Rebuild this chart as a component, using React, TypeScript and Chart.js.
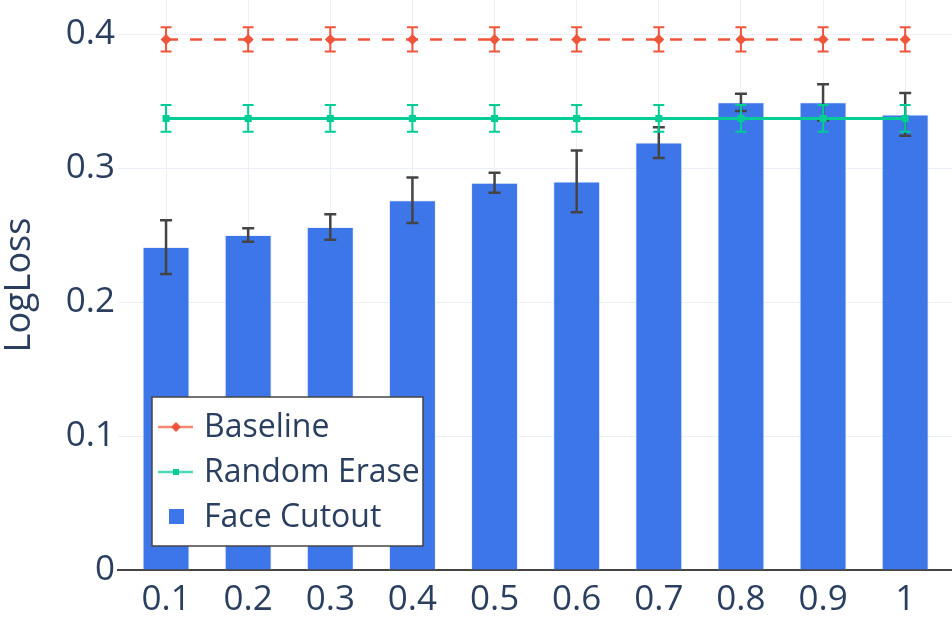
import React, { useEffect, useRef } from "react";
import { Chart, registerables } from "chart.js";

Chart.register(...registerables);

// ---- data ----
const xValues = [0.1, 0.2, 0.3, 0.4, 0.5, 0.6, 0.7, 0.8, 0.9, 1.0];
const baselineValues = [0.396, 0.396, 0.396, 0.396, 0.396, 0.396, 0.396, 0.396, 0.396, 0.396];
const baselineErrors = [0.009, 0.009, 0.009, 0.009, 0.009, 0.009, 0.009, 0.009, 0.009, 0.009];
const randomEraseValues = [0.337, 0.337, 0.337, 0.337, 0.337, 0.337, 0.337, 0.337, 0.337, 0.337];
const randomEraseErrors = [0.01, 0.01, 0.01, 0.01, 0.01, 0.01, 0.01, 0.01, 0.01, 0.01];
const faceCutoutValues = [0.241, 0.25, 0.256, 0.276, 0.289, 0.29, 0.319, 0.349, 0.349, 0.34];
const faceCutoutErrors = [0.02, 0.005, 0.0095, 0.017, 0.0075, 0.023, 0.0115, 0.0065, 0.0135, 0.016];
const yTickValues = [0, 0.1, 0.2, 0.3, 0.4];
const seriesLabels = ["Baseline", "Random Erase", "Face Cutout"];
const yTitle = "LogLoss";

const FONT = "'Open Sans', 'Noto Sans', sans-serif";
const TEXT = "#2a3f5f";
const RED = "#ef553b";
const GREEN = "#00cc96";
const BLUE = "#3d76e9";
const GRID = "#ebf0f8";

function drawErrorBars(chart: any, index: number) {
  const ds = chart.data.datasets[index];
  const errs: number[] | undefined = ds.errors;
  if (!errs) return;
  const meta = chart.getDatasetMeta(index);
  const yScale = chart.scales.y;
  const ctx = chart.ctx;
  ctx.save();
  ctx.strokeStyle = ds.errorColor;
  ctx.lineWidth = ds.errorWidth;
  ctx.setLineDash([]);
  const half = ds.errorCap / 2;
  meta.data.forEach((el: any, i: number) => {
    const v = ds.data[i].y;
    const x = el.x;
    const top = yScale.getPixelForValue(v + errs[i]);
    const bot = yScale.getPixelForValue(v - errs[i]);
    ctx.beginPath();
    ctx.moveTo(x, top);
    ctx.lineTo(x, bot);
    ctx.moveTo(x - half, top);
    ctx.lineTo(x + half, top);
    ctx.moveTo(x - half, bot);
    ctx.lineTo(x + half, bot);
    ctx.stroke();
  });
  ctx.restore();
}

const errorBarPlugin = {
  id: "errorBars",
  beforeDatasetDraw(chart: any, args: any) {
    const ds = chart.data.datasets[args.index];
    if (ds.type === "line") drawErrorBars(chart, args.index);
  },
  afterDatasetDraw(chart: any, args: any) {
    const ds = chart.data.datasets[args.index];
    if (ds.type !== "line") drawErrorBars(chart, args.index);
  },
};

const legendPlugin = {
  id: "boxLegend",
  afterDraw(chart: any) {
    const ctx = chart.ctx;
    const area = chart.chartArea;
    const left = area.left + 34;
    const top = area.top + 397;
    const w = 271;
    const h = 149;
    ctx.save();
    ctx.fillStyle = "#ffffff";
    ctx.fillRect(left, top, w, h);
    ctx.strokeStyle = "#444444";
    ctx.lineWidth = 1.5;
    ctx.strokeRect(left, top, w, h);
    const rowGap = 45;
    const symX = left + 24;
    chart.data.datasets.forEach((ds: any, i: number) => {
      const cy = top + 30 + i * rowGap;
      if (ds.type === "line") {
        ctx.save();
        ctx.globalAlpha = 0.7;
        ctx.strokeStyle = ds.borderColor;
        ctx.lineWidth = 2.5;
        ctx.beginPath();
        ctx.moveTo(symX - 18, cy);
        ctx.lineTo(symX + 17, cy);
        ctx.stroke();
        ctx.restore();
        ctx.fillStyle = ds.borderColor;
        if (ds.pointStyle === "rectRot") {
          const r = 5;
          ctx.beginPath();
          ctx.moveTo(symX, cy - r);
          ctx.lineTo(symX + r, cy);
          ctx.lineTo(symX, cy + r);
          ctx.lineTo(symX - r, cy);
          ctx.closePath();
          ctx.fill();
        } else {
          ctx.fillRect(symX - 3, cy - 3, 6, 6);
        }
      } else {
        ctx.fillStyle = ds.backgroundColor;
        ctx.fillRect(symX - 7, cy - 8, 15, 15);
      }
      ctx.fillStyle = TEXT;
      ctx.font = `32px ${FONT}`;
      ctx.textBaseline = "middle";
      ctx.textAlign = "left";
      ctx.fillText(ds.label, left + 52, cy + 1);
    });
    ctx.restore();
  },
};

const fmt = (v: number) => String(Math.round(v * 10) / 10);

export default function App() {
  const ref = useRef<HTMLCanvasElement | null>(null);

  useEffect(() => {
    if (!ref.current) return;
    const toPoints = (vals: number[]) => xValues.map((x, i) => ({ x, y: vals[i] }));
    const chart = new Chart(ref.current, {
      type: "bar",
      data: {
        datasets: [
          {
            type: "line",
            label: seriesLabels[0],
            data: toPoints(baselineValues),
            borderColor: RED,
            backgroundColor: RED,
            borderWidth: 2.5,
            borderDash: [12, 12],
            pointStyle: "rectRot",
            pointRadius: 5.5,
            pointBorderWidth: 0,
            order: 1,
            errors: baselineErrors,
            errorColor: RED,
            errorWidth: 2,
            errorCap: 11,
          } as any,
          {
            type: "line",
            label: seriesLabels[1],
            data: toPoints(randomEraseValues),
            borderColor: GREEN,
            backgroundColor: GREEN,
            borderWidth: 3,
            pointStyle: "rect",
            pointRadius: 5,
            pointBorderWidth: 0,
            order: 2,
            errors: randomEraseErrors,
            errorColor: GREEN,
            errorWidth: 2,
            errorCap: 11,
          } as any,
          {
            type: "bar",
            label: seriesLabels[2],
            data: toPoints(faceCutoutValues),
            backgroundColor: BLUE,
            borderColor: "rgba(229,236,246,0.8)",
            borderWidth: 1,
            barPercentage: 1,
            categoryPercentage: 0.572,
            order: 3,
            errors: faceCutoutErrors,
            errorColor: "#444444",
            errorWidth: 2.5,
            errorCap: 12,
          } as any,
        ],
      },
      options: {
        animation: false,
        responsive: true,
        maintainAspectRatio: false,
        layout: { padding: 0, autoPadding: false },
        plugins: {
          legend: { display: false },
          tooltip: { enabled: false },
        },
        scales: {
          x: {
            type: "linear",
            offset: false,
            min: 0.0415,
            max: 1.057,
            afterBuildTicks: (scale: any) => {
              scale.ticks = xValues.map((v) => ({ value: v }));
            },
            afterFit: (scale: any) => {
              scale.height = 54;
              scale.paddingLeft = 0;
              scale.paddingRight = 0;
              scale.paddingTop = 0;
              scale.paddingBottom = 0;
            },
            ticks: {
              includeBounds: false,
              autoSkip: false,
              maxRotation: 0,
              padding: 9,
              color: TEXT,
              font: { family: FONT, size: 35 },
              callback: (v: any) => fmt(Number(v)),
            },
            grid: { color: GRID, lineWidth: 1, drawTicks: false, offset: false },
            border: { display: true, color: "#444444", width: 2 },
          },
          y: {
            type: "linear",
            min: 0,
            max: 0.4254,
            afterBuildTicks: (scale: any) => {
              scale.ticks = yTickValues.map((v) => ({ value: v }));
            },
            afterFit: (scale: any) => {
              scale.width = 118;
              scale.paddingTop = 0;
              scale.paddingBottom = 0;
              scale.paddingLeft = 0;
              scale.paddingRight = 0;
            },
            ticks: {
              includeBounds: false,
              padding: 3,
              color: TEXT,
              font: { family: FONT, size: 35 },
              callback: (v: any) => fmt(Number(v)),
            },
            grid: { color: GRID, lineWidth: 1, drawTicks: false },
            border: { display: false },
            title: {
              display: true,
              text: yTitle,
              color: TEXT,
              font: { family: FONT, size: 36, lineHeight: 1 },
              padding: { top: 2, bottom: 0 },
            },
          },
        },
      } as any,
      plugins: [errorBarPlugin, legendPlugin],
    });
    return () => chart.destroy();
  }, []);

  return (
    <div style={{ position: "fixed", left: 0, top: 0, width: 952, height: 624, background: "#fff" }}>
      <canvas ref={ref} />
    </div>
  );
}
